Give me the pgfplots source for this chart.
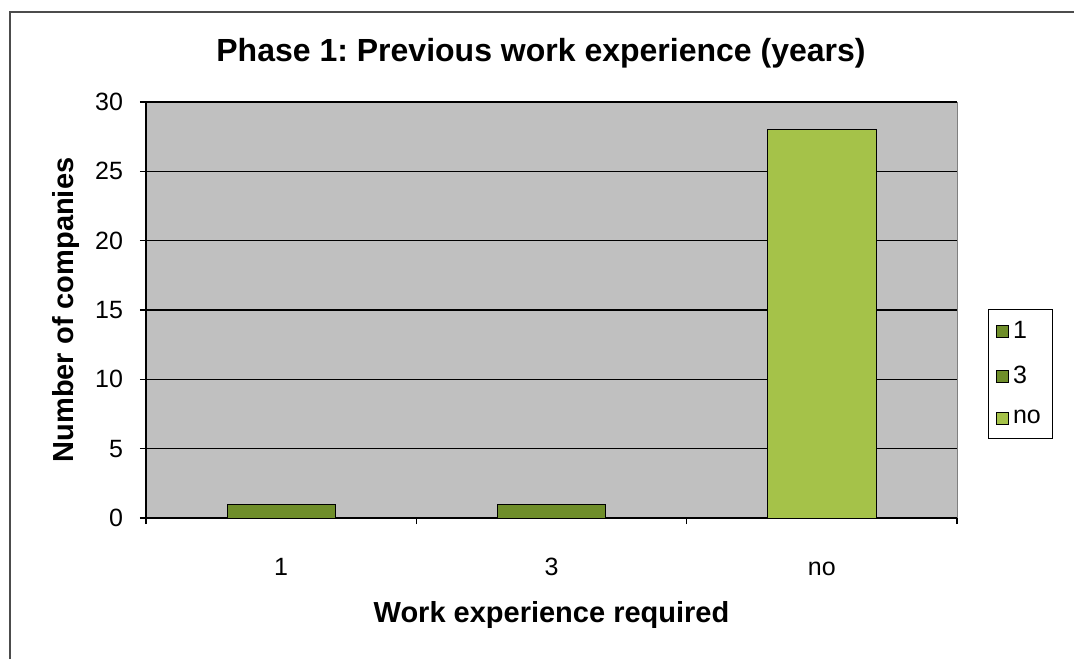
\documentclass[border=0pt]{standalone}
\usepackage{fontspec}
\setmainfont{Liberation Sans}
\usepackage{pgfplots}
\pgfplotsset{compat=1.18}
\definecolor{plotgray}{RGB}{192,192,192}
\definecolor{darkbar}{RGB}{111,142,42}
\definecolor{lightbar}{RGB}{165,194,73}
\frenchspacing
\begin{document}
\begin{tikzpicture}
\useasboundingbox (0,0) rectangle (537pt,329.5pt);
\draw[line width=1pt, black!70] (5pt,0) -- (5pt,323.5pt) -- (537pt,323.5pt);
\node[font=\fontsize{16}{18}\selectfont\bfseries] at (270.5pt,303pt) {Phase 1: Previous work experience (years)};
\begin{axis}[
    at={(73pt,70.5pt)}, anchor=south west,
    scale only axis, width=405.5pt, height=208pt,
    xmin=-0.5, xmax=2.5, ymin=0, ymax=30,
    ytick={0,5,...,30},
    xtick={0,1,2}, xticklabels={1,3,no},
    minor xtick={-0.5,0.5,1.5,2.5},
    axis lines*=left,
    axis line style={black, line width=0.8pt},
    axis background/.style={fill=plotgray, draw=gray},
    ymajorgrids, grid style={black, line width=0.6pt},
    tick align=outside, major tick length=3pt, minor tick length=3pt,
    tick style={black, line width=0.8pt},
    major x tick style={draw=none},
    ticklabel style={font=\fontsize{12.5}{14}\selectfont},
    /pgf/number format/assume math mode=true,
    xticklabel style={yshift=-13pt, text height=9pt, text depth=0pt},
    yticklabel style={xshift=-5pt},
    xlabel={Work experience required},
    ylabel={Number of companies},
    label style={font=\fontsize{14.5}{16}\selectfont\bfseries},
    xlabel style={yshift=-6.5pt},
    ylabel style={yshift=1pt},
    legend style={at={(1.038,0.346)}, anchor=west, draw=black, fill=white,
        font=\fontsize{12.5}{14}\selectfont, row sep=8pt, inner sep=4pt},
    legend cell align=left,
    legend image code/.code={\draw[#1] (0pt,-3pt) rectangle (6pt,3pt);},
]
\addplot[ybar, bar width=0.4, bar shift=0pt, fill=darkbar, draw=black] coordinates {(0,1)};
\addplot[ybar, bar width=0.4, bar shift=0pt, fill=darkbar, draw=black] coordinates {(1,1)};
\addplot[ybar, bar width=0.4, bar shift=0pt, fill=lightbar, draw=black] coordinates {(2,28)};
\legend{1,3,no}
\end{axis}
\end{tikzpicture}
\end{document}
